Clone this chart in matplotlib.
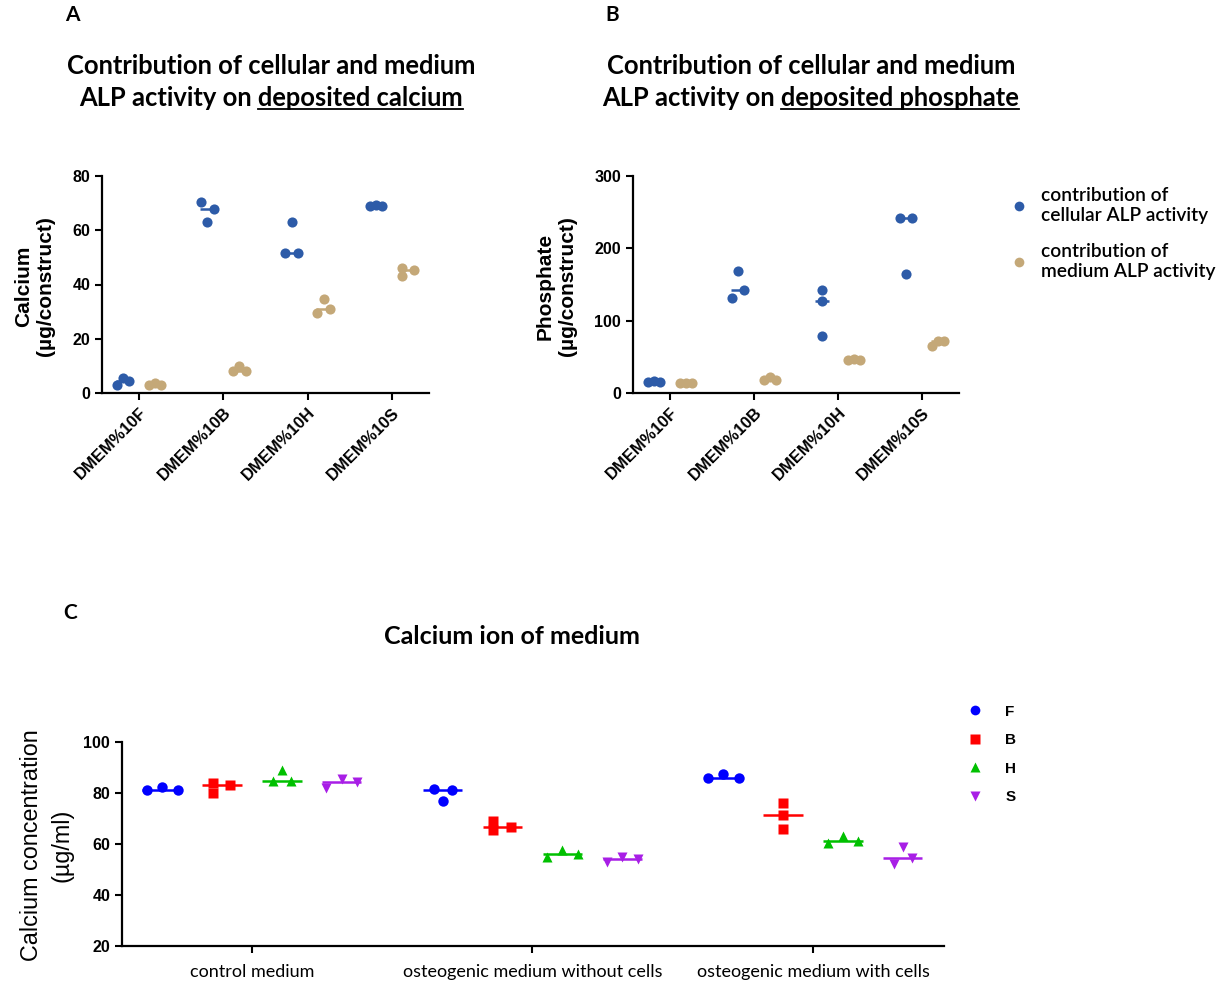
import matplotlib
matplotlib.use("Agg")
from matplotlib import pyplot as plt
from matplotlib.lines import Line2D
import numpy as np

W, H = 1224, 984
TITLE_FONT = "Lato"
AXIS_FONT = "Liberation Sans"

# Panel A / B data (three replicates per group)
groups_ab = ["DMEM%10F", "DMEM%10B", "DMEM%10H", "DMEM%10S"]
calcium_cellular = [[2.8, 5.5, 4.5], [70.5, 63, 68], [51.5, 63, 51.5], [68.8, 69.3, 69]]
calcium_medium = [[2.8, 3.8, 2.8], [8, 10, 8], [29.5, 34.5, 31], [46, 43, 45.5]]
phosphate_cellular = [[15, 17, 15], [131, 168, 143], [143, 127, 79], [242, 164, 242]]
phosphate_medium = [[13.5, 14, 13.5], [18, 21.5, 18], [45, 47.5, 46], [65, 72, 72]]
legend_ab = ["contribution of\ncellular ALP activity", "contribution of\nmedium ALP activity"]

# Panel C data
media = ["control medium", "osteogenic medium without cells", "osteogenic medium with cells"]
serum = ["F", "B", "H", "S"]
ca_F = [[81, 82.5, 81], [81.5, 76.8, 81], [86, 87.3, 86]]
ca_B = [[84, 80, 83], [69, 65.5, 66.5], [76, 71.5, 65.7]]
ca_H = [[84.6, 89, 84.6], [55, 57.5, 56], [60.5, 63, 61]]
ca_S = [[82, 85.5, 84.5], [53, 55, 54], [52, 59, 54.5]]

# scatter spreads within a group (layout only)
J = [-0.075, 0, 0.075]
jit_a = {"cell": [J] * 4, "med": [J, J, J, [-0.07, -0.07, 0.07]]}
jit_b = {"cell": [J, J, [0, 0, 0], J], "med": [J] * 4}
WIDE, NARROW = [-0.055, 0, 0.055], [-0.032, 0, 0.032]
jit_c = {
    "F": [WIDE, NARROW, WIDE],
    "B": [[-0.03, -0.03, 0.03], [-0.032, -0.032, 0.032], [0, 0, 0]],
    "H": [NARROW, WIDE, WIDE],
    "S": [WIDE, WIDE, NARROW],
}

BLUE = "#2d5ba8"
TAN = "#c4a878"
C_COLORS = {"F": "#0000ff", "B": "#ff0000", "H": "#00c000", "S": "#a81ee6"}
C_MARKERS = {"F": "o", "B": "s", "H": "^", "S": "v"}
C_SIZES = {"F": 7.5, "B": 7, "H": 7.5, "S": 7.5}


def px_axes(fig, left, top, right, bottom):
    return fig.add_axes([left / W, 1 - bottom / H, (right - left) / W, (bottom - top) / H])


def style_axes(ax):
    for s in ["top", "right"]:
        ax.spines[s].set_visible(False)
    for s in ["left", "bottom"]:
        ax.spines[s].set_linewidth(1.6)
    ax.tick_params(direction="out", length=5, width=1.5)


def draw_group(ax, x, vals, offs, color, marker, ms, half):
    ax.hlines(np.median(vals), x - half, x + half, color=color, lw=1.8, zorder=2)
    ax.plot(x + np.array(offs), vals, ls="none", marker=marker, ms=ms, color=color,
            mec="none", zorder=3, clip_on=False)


def panel_ab(ax, cellular, medium, jit, ymax, yticks):
    for i in range(len(groups_ab)):
        draw_group(ax, i - 0.19, cellular[i], jit["cell"][i], BLUE, "o", 7.3, 0.085)
        draw_group(ax, i + 0.19, medium[i], jit["med"][i], TAN, "o", 7.3, 0.085)
    ax.set_xlim(-0.44, 3.44)
    ax.set_ylim(0, ymax)
    ax.set_yticks(yticks)
    ax.set_xticks(range(len(groups_ab)))
    ax.set_xticklabels(groups_ab, rotation=45, ha="right", rotation_mode="anchor",
                       fontfamily=AXIS_FONT, fontweight="bold", fontsize=12)
    for lab in ax.get_yticklabels():
        lab.set_fontfamily(AXIS_FONT)
        lab.set_fontweight("bold")
        lab.set_fontsize(11.5)
    style_axes(ax)


fig = plt.figure(figsize=(W / 100, H / 100), dpi=100)

axA = px_axes(fig, 102, 176, 429, 393)
panel_ab(axA, calcium_cellular, calcium_medium, jit_a, 80, [0, 20, 40, 60, 80])
axB = px_axes(fig, 633, 176, 959, 393)
panel_ab(axB, phosphate_cellular, phosphate_medium, jit_b, 300, [0, 100, 200, 300])

fig.text(35 / W, 1 - 286 / H, "Calcium\n(µg/construct)", rotation=90, ha="center", va="center",
         fontfamily=AXIS_FONT, fontweight="bold", fontsize=15, linespacing=1.2)
fig.text(556 / W, 1 - 286 / H, "Phosphate\n(µg/construct)", rotation=90, ha="center", va="center",
         fontfamily=AXIS_FONT, fontweight="bold", fontsize=15, linespacing=1.2)

handles = [Line2D([], [], ls="none", marker="o", ms=7, color=BLUE, mec="none"),
           Line2D([], [], ls="none", marker="o", ms=7, color=TAN, mec="none")]
fig.legend(handles, legend_ab, loc="upper left", bbox_to_anchor=(994 / W, 1 - 170 / H),
           frameon=False, handlelength=0.8, handletextpad=0.75, labelspacing=1.0,
           prop={"family": TITLE_FONT, "weight": "semibold", "size": 13.8})

# Panel C
axC = px_axes(fig, 122, 742, 944, 946)
group_off = [-0.32, -0.107, 0.107, 0.32]
series_c = {"F": ca_F, "B": ca_B, "H": ca_H, "S": ca_S}
for k, s in enumerate(serum):
    for m in range(len(media)):
        draw_group(axC, m + group_off[k], series_c[s][m], jit_c[s][m], C_COLORS[s],
                   C_MARKERS[s], C_SIZES[s], 0.07)
axC.set_xlim(-0.463, 2.467)
axC.set_ylim(20, 100)
axC.set_yticks([20, 40, 60, 80, 100])
axC.set_xticks(range(len(media)))
axC.set_xticklabels(media, fontfamily=TITLE_FONT, fontsize=13)
for lab in axC.get_yticklabels():
    lab.set_fontfamily(AXIS_FONT)
    lab.set_fontweight("bold")
    lab.set_fontsize(11.5)
style_axes(axC)
axC.tick_params(axis="x", pad=8)

fig.text(47 / W, 1 - 845 / H, "Calcium concentration\n(µg/ml)", rotation=90, ha="center", va="center",
         fontfamily=AXIS_FONT, fontsize=16.8, linespacing=1.4)

handles_c = [Line2D([], [], ls="none", marker=C_MARKERS[s], ms=7, color=C_COLORS[s], mec="none")
             for s in serum]
fig.legend(handles_c, serum, loc="upper left", bbox_to_anchor=(955 / W, 1 - 691 / H),
           frameon=False, handlelength=0.8, handletextpad=1.6, labelspacing=0.95,
           prop={"family": AXIS_FONT, "weight": "bold", "size": 11})

# Titles and panel letters
for letter, x, y in [("A", 65, 15), ("B", 605, 15), ("C", 63, 613)]:
    fig.text(x / W, 1 - y / H, letter, ha="left", va="center", fontfamily=TITLE_FONT,
             fontweight="bold", fontsize=15)

fig.text(512 / W, 1 - 636 / H, "Calcium ion of medium", ha="center", va="center",
         fontfamily=TITLE_FONT, fontweight="bold", fontsize=18)

renderer = fig.canvas.get_renderer()
for cx, word in [(271, "calcium"), (811, "phosphate")]:
    fig.text(cx / W, 1 - 66 / H, "Contribution of cellular and medium", ha="center", va="center",
             fontfamily=TITLE_FONT, fontweight="bold", fontsize=18.4)
    line2 = fig.text(cx / W, 1 - 98 / H, f"ALP activity on deposited {word}", ha="center",
                     va="center", fontfamily=TITLE_FONT, fontweight="bold", fontsize=18.4)
    part = fig.text(0, 0, f"deposited {word}", fontfamily=TITLE_FONT, fontweight="bold",
                    fontsize=18.4)
    bb = line2.get_window_extent(renderer)
    wpart = part.get_window_extent(renderer).width
    part.remove()
    yl = bb.y0 + 1
    fig.add_artist(Line2D([(bb.x1 - wpart) / W, bb.x1 / W], [yl / H, yl / H],
                          transform=fig.transFigure, color="black", lw=1.3))

fig.savefig("out.png", dpi=100)
